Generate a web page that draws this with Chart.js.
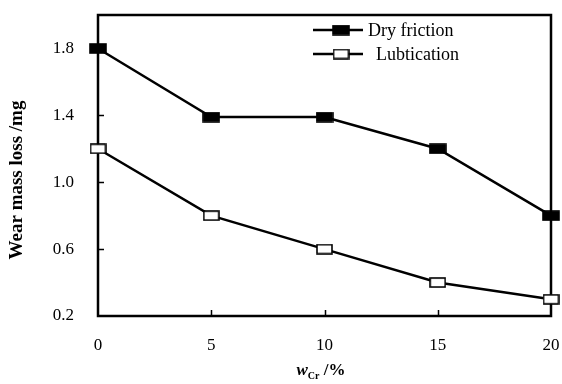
<!DOCTYPE html>
<html lang="en">
<head>
    <meta charset="UTF-8">
    <title>Wear mass loss</title>
    <style>
        body { margin: 0; background: #fff; }
        #wrap { width: 562px; height: 384px; }
    </style>
</head>
<body>
    <div id="wrap"><canvas id="wearChart" width="562" height="384"></canvas></div>

    <script src="https://cdn.jsdelivr.net/npm/chart.js@4.4.0/dist/chart.umd.min.js"></script>
    <script>
        // data
        const cfContent = [0, 5, 10, 15, 20];          // w_Cr /%
        const dryFriction = [1.8, 1.39, 1.39, 1.2, 0.8];
        const lubrication = [1.2, 0.8, 0.6, 0.4, 0.3];
        const xTicks = [0, 5, 10, 15, 20];
        const yTicks = [0.2, 0.6, 1.0, 1.4, 1.8];
        const seriesNames = ['Dry friction', 'Lubtication'];

        const serif = "'Liberation Serif', 'Times New Roman', serif";

        // rectangular markers (wider than tall)
        function makeMarker(fill, w) {
            const c = document.createElement('canvas');
            c.width = w + 2;
            c.height = 11;
            const g = c.getContext('2d');
            g.fillStyle = fill;
            g.fillRect(1, 1, w, 9);
            g.strokeStyle = '#000';
            g.lineWidth = 1.6;
            g.strokeRect(1, 1, w, 9);
            return c;
        }
        const blackBox = makeMarker('#000', 16);
        const whiteBox = makeMarker('#fff', 15);

        const toPoints = (ys) => ys.map((y, i) => ({ x: cfContent[i], y: y }));

        // frame, inner ticks, axis titles and legend
        const decor = {
            id: 'decor',
            beforeDatasetsDraw(chart) {
                const ctx = chart.ctx;
                const a = chart.chartArea;
                const xs = chart.scales.x;
                const ys = chart.scales.y;
                ctx.save();
                ctx.strokeStyle = '#000';
                ctx.lineWidth = 2.5;
                ctx.strokeRect(a.left, a.top, a.right - a.left, a.bottom - a.top);
                ctx.lineWidth = 1.5;
                ctx.beginPath();
                xTicks.slice(1, -1).forEach(v => {
                    const px = Math.round(xs.getPixelForValue(v)) + 0.5;
                    ctx.moveTo(px, a.bottom);
                    ctx.lineTo(px, a.bottom - 6);
                });
                yTicks.slice(1).forEach(v => {
                    const py = Math.round(ys.getPixelForValue(v)) + 0.5;
                    ctx.moveTo(a.left, py);
                    ctx.lineTo(a.left + 6, py);
                });
                ctx.stroke();
                ctx.restore();
            },
            afterDraw(chart) {
                const ctx = chart.ctx;
                ctx.save();
                ctx.fillStyle = '#000';

                // y title
                ctx.save();
                ctx.translate(17, 180);
                ctx.rotate(-Math.PI / 2);
                ctx.font = 'bold 19px ' + serif;
                ctx.textAlign = 'center';
                ctx.textBaseline = 'middle';
                ctx.fillText('Wear mass loss /mg', 0, 0);
                ctx.restore();

                // x title: w_Cr /%
                const parts = [
                    { t: 'w', f: 'bold italic 17px ' + serif, dy: 0 },
                    { t: 'Cr', f: 'bold 10px ' + serif, dy: 4 },
                    { t: ' /%', f: 'bold 17px ' + serif, dy: 0 }
                ];
                let total = 0;
                parts.forEach(p => { ctx.font = p.f; p.w = ctx.measureText(p.t).width; total += p.w; });
                let x = 321 - total / 2;
                ctx.textBaseline = 'alphabetic';
                ctx.textAlign = 'left';
                parts.forEach(p => {
                    ctx.font = p.f;
                    ctx.fillText(p.t, x, 375 + p.dy);
                    x += p.w;
                });

                // legend
                const rows = [30, 54];
                const textX = [368, 376];
                chart.data.datasets.forEach((ds, i) => {
                    const y = rows[i];
                    ctx.strokeStyle = '#000';
                    ctx.lineWidth = 2.5;
                    ctx.beginPath();
                    ctx.moveTo(313, y);
                    ctx.lineTo(363, y);
                    ctx.stroke();
                    const img = ds.pointStyle;
                    ctx.drawImage(img, 341 - img.width / 2, y - img.height / 2);
                    ctx.font = '18px ' + serif;
                    ctx.textBaseline = 'middle';
                    ctx.fillText(ds.label, textX[i], y + 1);
                });
                ctx.restore();
            }
        };

        const ctx = document.getElementById('wearChart').getContext('2d');
        const wearChart = new Chart(ctx, {
            type: 'line',
            data: {
                datasets: [{
                    label: seriesNames[0],
                    data: toPoints(dryFriction),
                    borderColor: '#000',
                    borderWidth: 2.5,
                    pointStyle: blackBox,
                    clip: false
                }, {
                    label: seriesNames[1],
                    data: toPoints(lubrication),
                    borderColor: '#000',
                    borderWidth: 2.5,
                    pointStyle: whiteBox,
                    clip: false
                }]
            },
            options: {
                responsive: false,
                animation: false,
                layout: { autoPadding: false, padding: { top: 15, right: 11, left: 0, bottom: 0 } },
                plugins: {
                    legend: { display: false },
                    tooltip: { enabled: false }
                },
                scales: {
                    x: {
                        type: 'linear',
                        min: 0,
                        max: 20,
                        afterBuildTicks: (s) => { s.ticks = xTicks.map(v => ({ value: v })); },
                        afterFit: (s) => { s.height = 68; },
                        // tick marks are hidden; their length only spaces the labels
                        grid: { display: false, drawTicks: true, tickLength: 17 },
                        border: { display: false },
                        ticks: {
                            color: '#000',
                            padding: 2,
                            maxRotation: 0,
                            font: { family: serif, size: 17 }
                        }
                    },
                    y: {
                        min: 0.2,
                        max: 2.0,
                        afterBuildTicks: (s) => { s.ticks = yTicks.map(v => ({ value: v })); },
                        afterFit: (s) => { s.width = 98; },
                        grid: { display: false, drawTicks: true, tickLength: 22 },
                        border: { display: false },
                        ticks: {
                            color: '#000',
                            padding: 2,
                            font: { family: serif, size: 17 },
                            callback: (v) => Number(v).toFixed(1)
                        }
                    }
                }
            },
            plugins: [decor]
        });
    </script>
</body>
</html>
